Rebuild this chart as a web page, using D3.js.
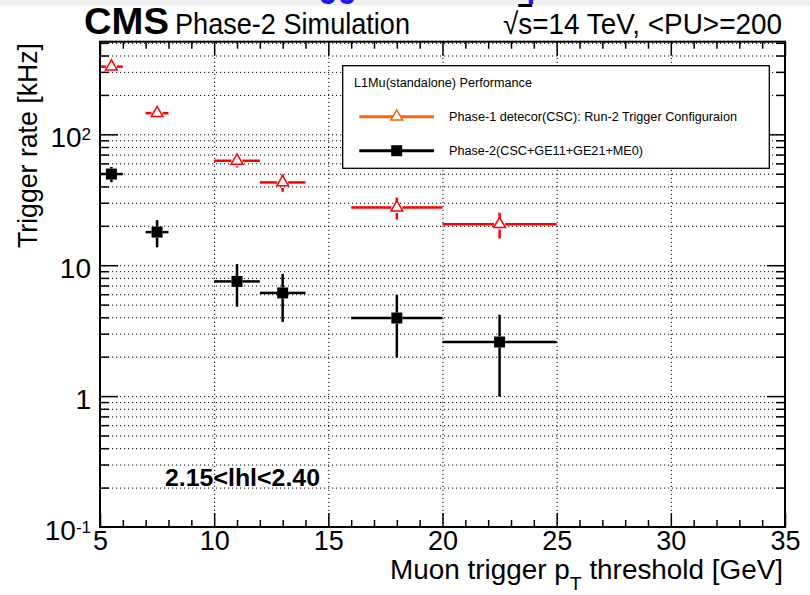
<!DOCTYPE html>
<html><head><meta charset="utf-8">
<script src="https://cdn.jsdelivr.net/npm/d3@7"></script>
<style>
body{margin:0;background:#fff;}
svg{display:block;font-family:"Liberation Sans",Arial,Helvetica,sans-serif;}
</style>
</head><body>
<svg id="c" width="810" height="595"></svg>
<script>
// ---- data ----
const binLow    = [5, 7, 10, 12, 16, 20];
const binHigh   = [6, 8, 12, 14, 20, 25];
const binCenter = [5.5, 7.5, 11, 13, 18, 22.5];
const phase1Rate = [329, 145, 62.8, 42.9, 27.6, 20.6];
const phase1Err  = [16, 10, 7, 6.5, 5.3, 4.6];
const phase2Rate = [49.7, 17.9, 7.52, 6.14, 3.95, 2.59];
const phase2Err  = [6.6, 4.2, 2.7, 2.45, 1.98, 1.6];
const xTickValues = [5, 10, 15, 20, 25, 30, 35];
const yTickValues = [0.1, 1, 10, 100];
const yTickBase = ["10", "1", "10", "10"];
const yTickSup  = ["-1", "", "", "2"];
const legendHeader = "L1Mu(standalone) Performance";
const seriesNames = ["Phase-1 detecor(CSC): Run-2 Trigger Configuraion", "Phase-2(CSC+GE11+GE21+ME0)"];
const etaLabel = "2.15<lhl<2.40";

// ---- layout ----
const L = 100, R = 785, T = 41.7, B = 527;
const svg = d3.select("#c");
const x = d3.scaleLinear().domain([5, 35]).range([L, R]);
const y = d3.scaleLog().domain([0.1, 510]).range([B, T]);
const RED = "#ff0000", ORANGE = "#ff6600";

// top strip (cut-off page header)
svg.append("rect").attr("x",0).attr("y",0).attr("width",810).attr("height",5.5).attr("fill","#f0f0f0");
svg.append("text").attr("x",280).attr("y",-4).attr("font-size",40).attr("font-weight","bold")
  .attr("fill","#1a1aff").attr("textLength",360).attr("lengthAdjust","spacingAndGlyphs").text("Trigger rate comparison");

// grid
const allY = y.ticks().filter(v => v > 0.1 + 1e-9 && v <= 510);
const gy = svg.append("g").attr("transform",`translate(${L},0)`)
  .call(d3.axisLeft(y).tickValues(allY).tickSize(-(R-L)).tickFormat(""));
gy.select(".domain").remove();
gy.selectAll("line").attr("stroke","#000").attr("stroke-width",1).attr("stroke-dasharray","1.2,2.8");
const gx = svg.append("g").attr("transform",`translate(0,${B})`)
  .call(d3.axisBottom(x).tickValues([10,15,20,25,30]).tickSize(-(B-T)).tickFormat(""));
gx.select(".domain").remove();
gx.selectAll("line").attr("stroke","#000").attr("stroke-width",1).attr("stroke-dasharray","1.2,2.8");

// data series
function drawSeries(rates, errs, color, kind) {
  const g = svg.append("g");
  const gap = 5.5;
  rates.forEach((v, i) => {
    const cx = x(binCenter[i]), cy = y(v);
    const x0 = x(binLow[i]), x1 = x(binHigh[i]);
    const yt = y(v + errs[i]), yb = y(v - errs[i]);
    const segs = [];
    if (cx - gap > x0) segs.push([x0, cy, cx - gap, cy]);
    if (x1 > cx + gap) segs.push([cx + gap, cy, x1, cy]);
    if (yt < cy - gap) segs.push([cx, yt, cx, cy - gap]);
    if (yb > cy + gap) segs.push([cx, cy + gap, cx, yb]);
    segs.forEach(s => g.append("line").attr("x1",s[0]).attr("y1",s[1]).attr("x2",s[2]).attr("y2",s[3])
      .attr("stroke",color).attr("stroke-width",2.5));
    if (kind === "tri") {
      g.append("path").attr("d", d3.symbol(d3.symbolTriangle, 60)())
        .attr("transform",`translate(${cx},${cy})`).attr("fill","#fff").attr("stroke",color).attr("stroke-width",1.5);
    } else {
      g.append("path").attr("d", d3.symbol(d3.symbolSquare, 121)())
        .attr("transform",`translate(${cx},${cy})`).attr("fill",color);
    }
  });
}
drawSeries(phase1Rate, phase1Err, RED, "tri");
drawSeries(phase2Rate, phase2Err, "#000", "sq");

// axis ticks (inward)
const majorY = yTickValues.concat([]);
const minorY = allY.filter(v => !majorY.some(m => Math.abs(m - v) < 1e-9));
const minorX = x.ticks(30).filter(v => !xTickValues.includes(v));
function styleAxis(g){ g.select(".domain").remove(); g.selectAll("line").attr("stroke","#000").attr("stroke-width",1.5); }
svg.append("g").attr("transform",`translate(${L},0)`).call(d3.axisLeft(y).tickValues(majorY.filter(v=>v>0.1)).tickSize(-18).tickFormat("")).call(styleAxis);
svg.append("g").attr("transform",`translate(${L},0)`).call(d3.axisLeft(y).tickValues(minorY).tickSize(-9).tickFormat("")).call(styleAxis);
svg.append("g").attr("transform",`translate(${R},0)`).call(d3.axisRight(y).tickValues(majorY.filter(v=>v>0.1)).tickSize(-18).tickFormat("")).call(styleAxis);
svg.append("g").attr("transform",`translate(${R},0)`).call(d3.axisRight(y).tickValues(minorY).tickSize(-9).tickFormat("")).call(styleAxis);
svg.append("g").attr("transform",`translate(0,${B})`).call(d3.axisBottom(x).tickValues(xTickValues).tickSize(-14).tickFormat("")).call(styleAxis);
svg.append("g").attr("transform",`translate(0,${B})`).call(d3.axisBottom(x).tickValues(minorX).tickSize(-7).tickFormat("")).call(styleAxis);
svg.append("g").attr("transform",`translate(0,${T})`).call(d3.axisTop(x).tickValues(xTickValues).tickSize(-14).tickFormat("")).call(styleAxis);
svg.append("g").attr("transform",`translate(0,${T})`).call(d3.axisTop(x).tickValues(minorX).tickSize(-7).tickFormat("")).call(styleAxis);

// frame
svg.append("rect").attr("x",L).attr("y",T).attr("width",R-L).attr("height",B-T)
  .attr("fill","none").attr("stroke","#000").attr("stroke-width",2);

// tick labels
const xl = svg.append("g").attr("transform",`translate(0,${B})`)
  .call(d3.axisBottom(x).tickValues(xTickValues).tickSize(0).tickFormat(d3.format("d")));
xl.select(".domain").remove();
xl.selectAll("text").attr("y",23).attr("dy",0).attr("font-size",27).attr("fill","#000")
  .attr("font-family","Liberation Sans, Arial, sans-serif");
const yl = svg.append("g").attr("transform",`translate(${L},0)`)
  .call(d3.axisLeft(y).tickValues(yTickValues).tickSize(0).tickFormat((d,i)=>yTickBase[i]));
yl.select(".domain").remove();
yl.selectAll("text").attr("x",-9).attr("dy",12).attr("font-size",28).attr("fill","#000")
  .attr("font-family","Liberation Sans, Arial, sans-serif")
  .each(function(d,i){ if (yTickSup[i]) d3.select(this).append("tspan").attr("dy",-7).attr("font-size",17).text(yTickSup[i]); });

// titles
svg.append("text").attr("x",84).attr("y",34).attr("font-size",37).attr("font-weight","bold")
  .attr("textLength",85).attr("lengthAdjust","spacingAndGlyphs").text("CMS");
svg.append("text").attr("x",175).attr("y",34).attr("font-size",29)
  .attr("textLength",235).attr("lengthAdjust","spacingAndGlyphs").text("Phase-2 Simulation");
const en = svg.append("text").attr("x",503).attr("y",34).attr("font-size",30)
  .attr("textLength",279).attr("lengthAdjust","spacingAndGlyphs");
en.append("tspan").text("√");
en.append("tspan").style("text-decoration","overline").text("s");
en.append("tspan").text("=14 TeV, <PU>=200");

svg.append("text").attr("transform","translate(37,43) rotate(-90)").attr("text-anchor","end")
  .attr("font-size",28).attr("textLength",205).attr("lengthAdjust","spacingAndGlyphs").text("Trigger rate [kHz]");
const xt = svg.append("text").attr("x",783).attr("y",579).attr("text-anchor","end").attr("font-size",27)
  .attr("textLength",393).attr("lengthAdjust","spacingAndGlyphs");
xt.append("tspan").text("Muon trigger p");
xt.append("tspan").attr("dy",11).attr("font-size",19).text("T");
xt.append("tspan").attr("dy",-11).text(" threshold [GeV]");

svg.append("text").attr("x",165).attr("y",485.7).attr("font-size",24).attr("font-weight","bold")
  .attr("textLength",155).attr("lengthAdjust","spacingAndGlyphs").text(etaLabel);

// legend
const lg = svg.append("g");
lg.append("rect").attr("x",342.7).attr("y",65.7).attr("width",426.6).attr("height",102.6)
  .attr("fill","#fff").attr("stroke","#000").attr("stroke-width",1.3);
lg.append("text").attr("x",354).attr("y",86.7).attr("font-size",12.5)
  .attr("textLength",178).attr("lengthAdjust","spacingAndGlyphs").text(legendHeader);
const legY = [116.7, 150.7], legCol = [ORANGE, "#000"], legLen = [288, 194];
seriesNames.forEach((nm, i) => {
  lg.append("line").attr("x1",359.3).attr("x2",434).attr("y1",legY[i]).attr("y2",legY[i])
    .attr("stroke",legCol[i]).attr("stroke-width",3);
  if (i === 0) {
    lg.append("path").attr("d", d3.symbol(d3.symbolTriangle, 60)()).attr("transform",`translate(396.7,${legY[i]})`)
      .attr("fill","#fff").attr("stroke",ORANGE).attr("stroke-width",1.5);
  } else {
    lg.append("path").attr("d", d3.symbol(d3.symbolSquare, 121)()).attr("transform",`translate(396.7,${legY[i]})`)
      .attr("fill","#000");
  }
  lg.append("text").attr("x",449).attr("y",legY[i]+4).attr("font-size",12.5)
    .attr("textLength",legLen[i]).attr("lengthAdjust","spacingAndGlyphs").text(nm);
});
</script>
</body></html>
